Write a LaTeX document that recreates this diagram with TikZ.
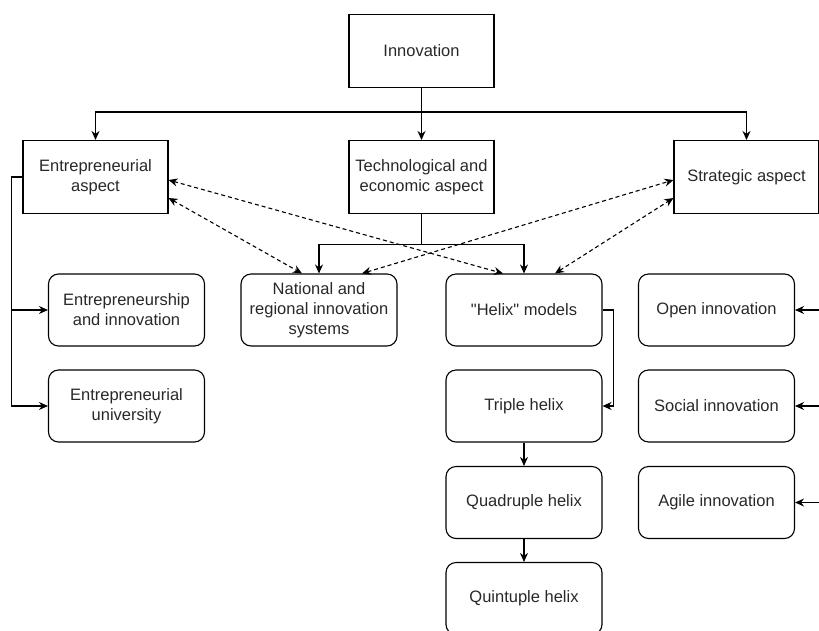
\documentclass[tikz,border=0pt]{standalone}
\usepackage{fontspec}
\setmainfont{Liberation Sans}
\newfontfamily\drawfont{Liberation Sans}
\usetikzlibrary{positioning,arrows.meta,calc}
\definecolor{ink}{RGB}{40,40,40}

\begin{document}
\begin{tikzpicture}[x=1pt, y=-1pt, font=\drawfont\fontsize{16.5}{20}\selectfont,
  line width=1.1pt, >={Stealth[length=9pt,width=8pt]},
  sqbox/.style={draw, align=center, minimum width=145pt, minimum height=73pt, inner sep=2pt, text=ink},
  rbox/.style={draw, rounded corners=10pt, align=center, minimum width=156pt, minimum height=72pt, inner sep=2pt, text=ink},
  link/.style={dashed, dash pattern=on 4pt off 3pt, <->}]
  \useasboundingbox (0,0) rectangle (819,630);
  % top levels
  \node[sqbox] (inn) at (421.5,51)  {Innovation};
  \node[sqbox] (ent) at (95.5,177)  {Entrepreneurial\\aspect};
  \node[sqbox] (tec) at (421.5,177) {Technological and\\economic aspect};
  \node[sqbox] (str) at (746.5,177) {Strategic aspect};
  % lower boxes
  \node[rbox] (ein) at (126.5,310) {Entrepreneurship\\and innovation};
  \node[rbox] (eun) at (126.5,406) {Entrepreneurial\\university};
  \node[rbox] (nri) at (319,310)   {National and\\regional innovation\\systems};
  \node[rbox] (hlx) at (524,310)   {"Helix" models};
  \node[rbox] (tri) at (524,406)   {Triple helix};
  \node[rbox] (qua) at (524,502.5) {Quadruple helix};
  \node[rbox] (qui) at (524,598.5) {Quintuple helix};
  \node[rbox] (opn) at (716.5,310) {Open innovation};
  \node[rbox] (soc) at (716.5,406) {Social innovation};
  \node[rbox] (agl) at (716.5,502.5) {Agile innovation};
  \coordinate (bus) at (421.5,112);
  \coordinate (e1) at (819,310);
  \coordinate (e2) at (819,406);
  \coordinate (e3) at (819,502.5);

  \draw[->] (inn) -- (tec);
  \draw[->] (bus) -| (ent.north);
  \draw[->] (bus) -| (str.north);
  \draw[->] (tec.south) -- ++(0,30) -| (nri.north);
  \draw[->] (tec.south) -- ++(0,30) -| (hlx.north);
  \draw[->] (ent.west) -- ++(-11,0) |- (ein.west);
  \draw[->] (ent.west) -- ++(-11,0) |- (eun.west);
  \draw[->] (hlx.east) -- ++(11,0) |- (tri.east);
  \draw[->] (tri) -- (qua);
  \draw[->] (qua) -- (qui);
  \draw[->] (e1) -- (opn.east);
  \draw[->] (e2) -- (soc.east);
  \draw[->] (e3) -- (agl.east);
  % dashed relations
  \draw[link] ([yshift=-3pt]ent.east) -- ([xshift=-21pt]hlx.north);
  \draw[link] ([yshift=-21pt]ent.east) -- ([xshift=-17pt]nri.north);
  \draw[link] ([xshift=43pt]nri.north) -- ([yshift=-3pt]str.west);
  \draw[link] ([xshift=31pt]hlx.north) -- ([yshift=-21pt]str.west);
\end{tikzpicture}
\end{document}
